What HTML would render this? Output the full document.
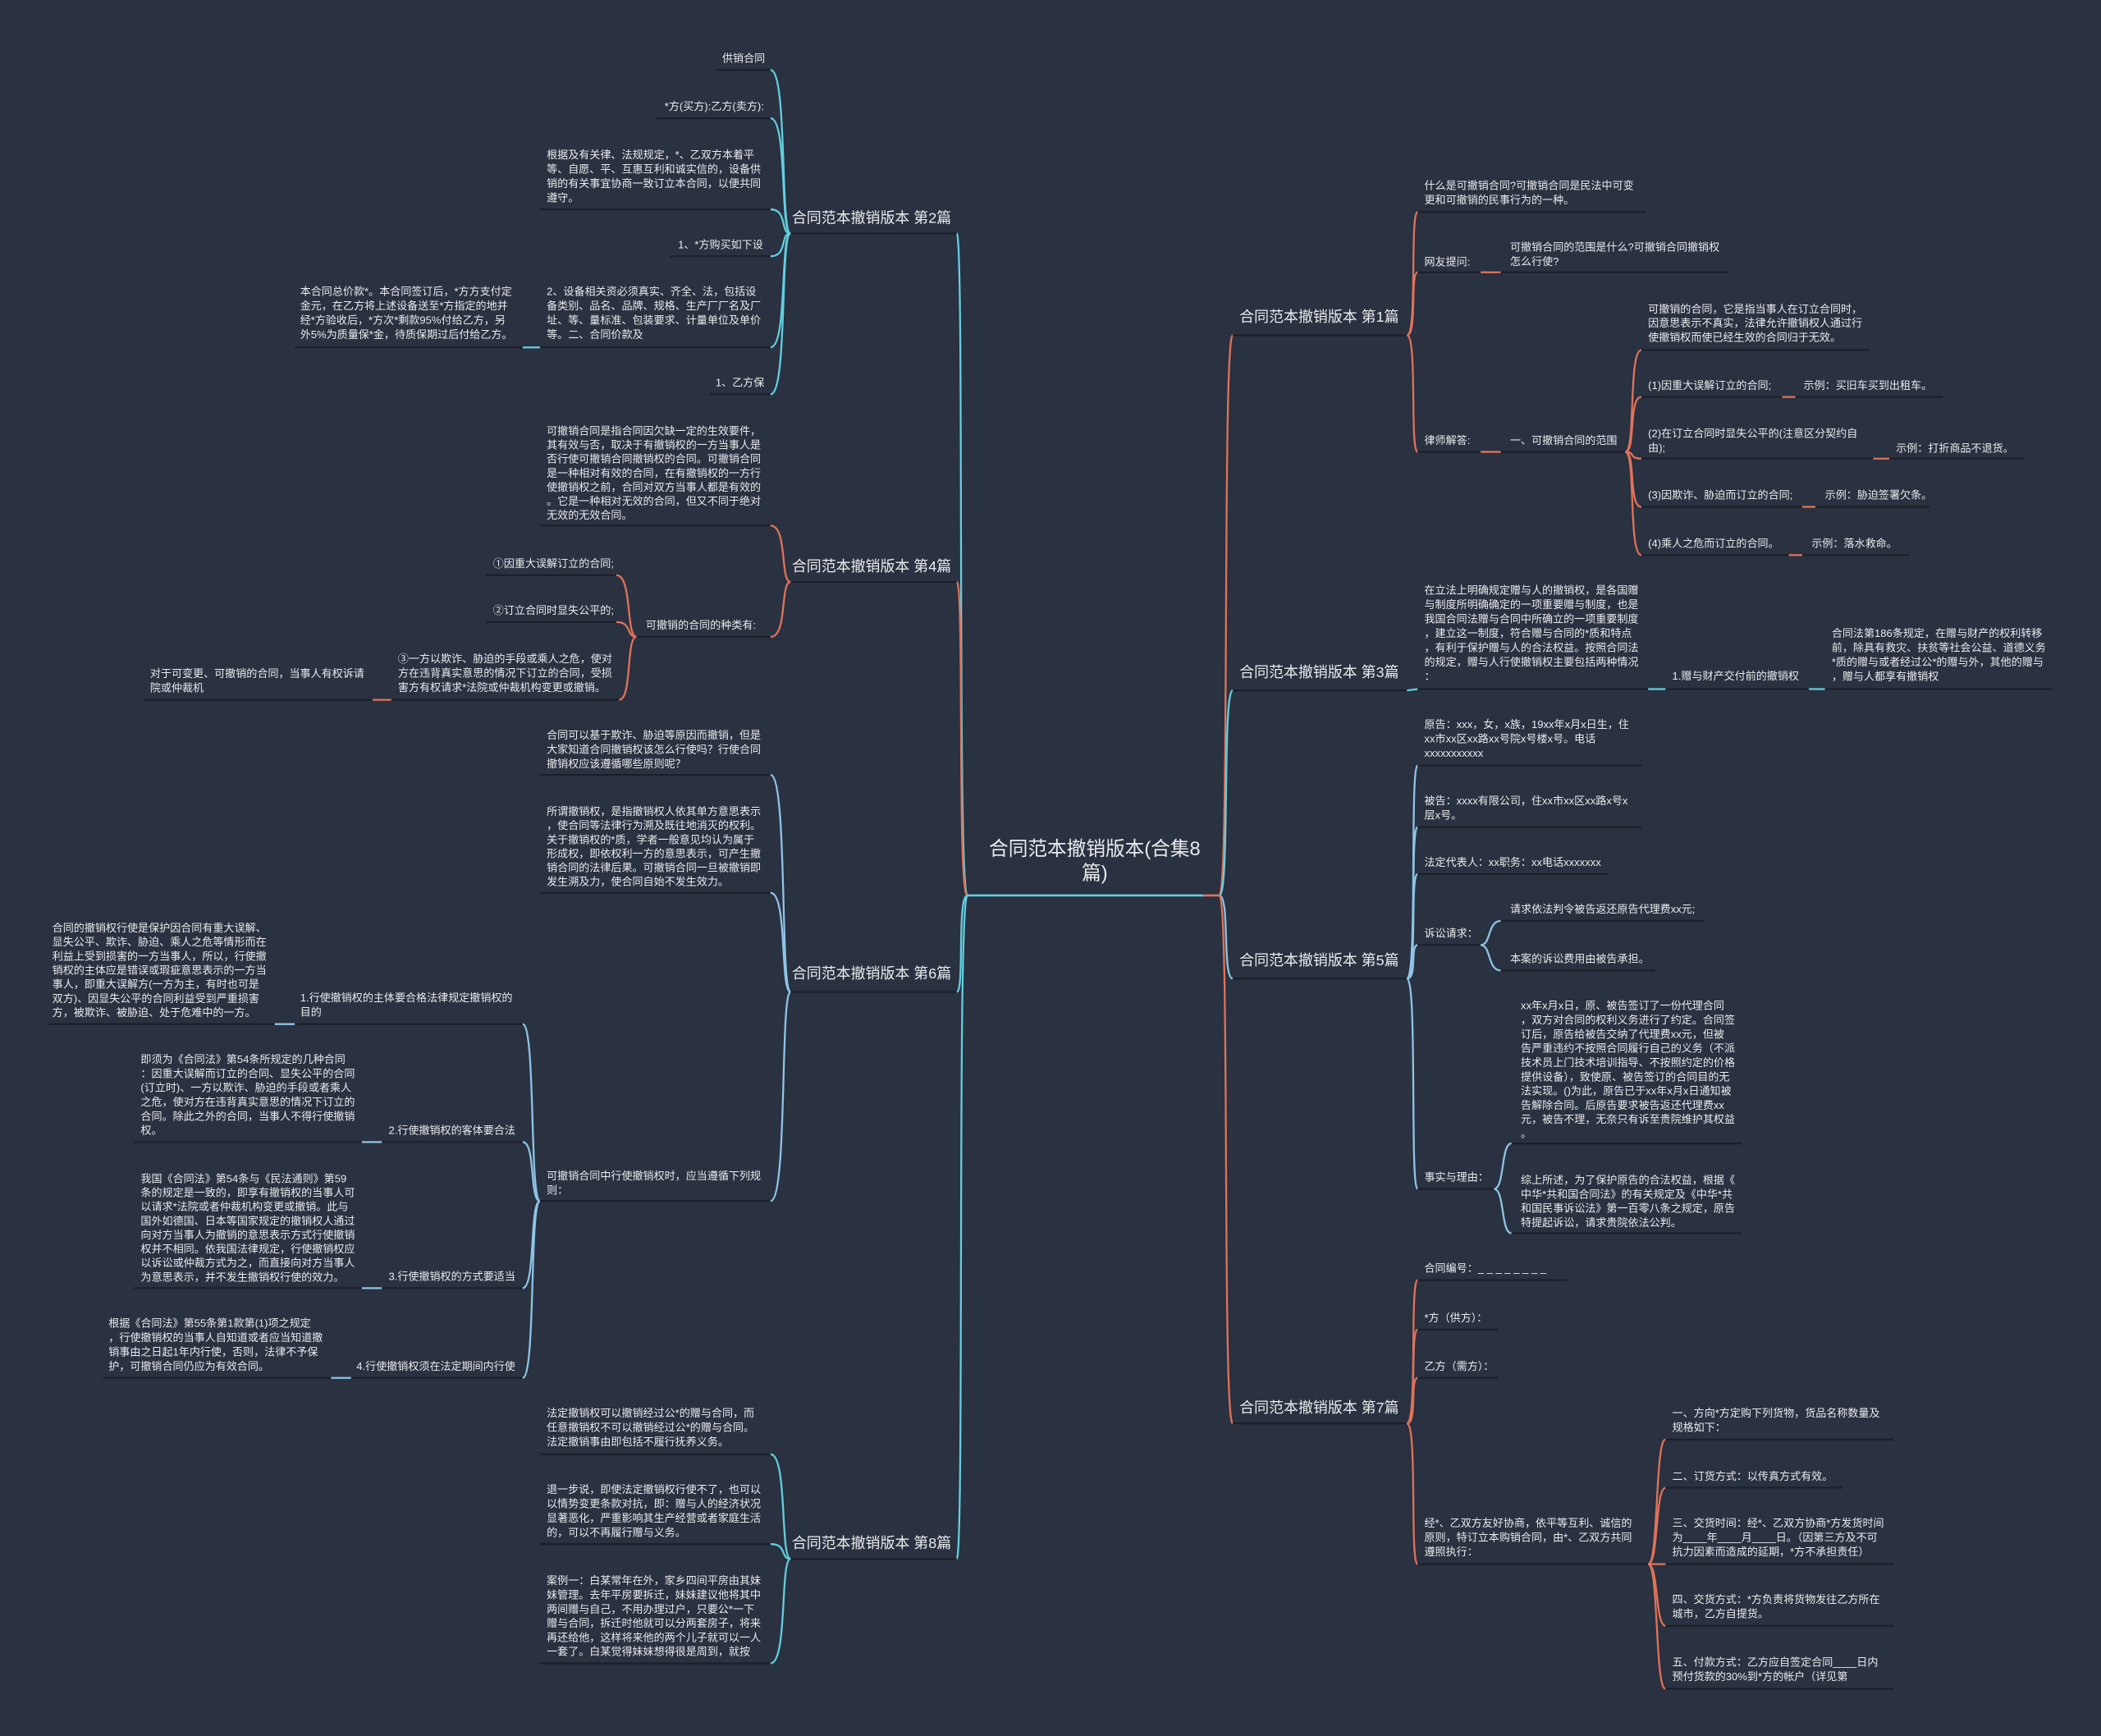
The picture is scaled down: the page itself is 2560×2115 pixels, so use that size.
<!DOCTYPE html>
<html><head><meta charset="utf-8"><style>
html,body{margin:0;padding:0;background:#2a3140;}
svg{display:block}
text{font-family:"Liberation Sans","Noto Sans CJK SC",sans-serif;fill:#e9ecef;}
.s{font-size:8px}
.b{font-size:11px}
.c{font-size:14.5px}
.u{stroke:#1b1f27;stroke-width:1.3}
path{fill:none;stroke-width:1.4}
.r{stroke:#e0735a}.k{stroke:#62cfe0}.l{stroke:#8ec4e6}
</style></head><body>
<svg width="2560" height="2115" viewBox="0 0 1568 1295" xmlns="http://www.w3.org/2000/svg">
<rect width="1568" height="1295" fill="#2a3140"/>
<!-- center -->
<text class="c" x="817" y="638" text-anchor="middle">合同范本撤销版本(合集8</text>
<text class="c" x="817" y="656" text-anchor="middle">篇)</text>
<line x1="722" y1="668" x2="898" y2="668" stroke="#62cfe0" stroke-width="1.6"/>
<line x1="898" y1="668" x2="910" y2="668" stroke="#e0735a" stroke-width="1.6"/>
<!-- center connectors -->
<path class="r" d="M910,668 C918,668 912,250 920,250"/>
<path class="k" d="M910,668 C918,668 912,515 920,515"/>
<path class="l" d="M910,668 C918,668 912,730 920,730"/>
<path class="r" d="M910,668 C918,668 912,1062 920,1062"/>
<path class="k" d="M722,668 C714,668 720,174 714,174"/>
<path class="r" d="M722,668 C714,668 720,434 714,434"/>
<path class="k" d="M722,668 C714,668 720,740 714,740"/>
<path class="k" d="M722,668 C714,668 720,1163 714,1163"/>
<!-- branch titles -->
<text class="b" x="925" y="240">合同范本撤销版本 第1篇</text><line class="u" x1="920" y1="250" x2="1050" y2="250"/>
<text class="b" x="925" y="505">合同范本撤销版本 第3篇</text><line class="u" x1="920" y1="515" x2="1050" y2="515"/>
<text class="b" x="925" y="720">合同范本撤销版本 第5篇</text><line class="u" x1="920" y1="730" x2="1050" y2="730"/>
<text class="b" x="925" y="1054">合同范本撤销版本 第7篇</text><line class="u" x1="920" y1="1062" x2="1050" y2="1062"/>
<text class="b" x="710" y="166" text-anchor="end">合同范本撤销版本 第2篇</text><line class="u" x1="590" y1="174" x2="714" y2="174"/>
<text class="b" x="710" y="426" text-anchor="end">合同范本撤销版本 第4篇</text><line class="u" x1="590" y1="434" x2="714" y2="434"/>
<text class="b" x="710" y="730" text-anchor="end">合同范本撤销版本 第6篇</text><line class="u" x1="590" y1="740" x2="714" y2="740"/>
<text class="b" x="710" y="1155" text-anchor="end">合同范本撤销版本 第8篇</text><line class="u" x1="590" y1="1163" x2="714" y2="1163"/>

<!-- ===== 第1篇 ===== -->
<path class="r" d="M1050,250 C1058,250 1052,158 1058,158"/>
<path class="r" d="M1050,250 C1058,250 1052,203 1058,203"/>
<path class="r" d="M1050,250 C1058,250 1052,337 1058,337"/>
<text class="s" x="1063" y="141"><tspan x="1063">什么是可撤销合同?可撤销合同是民法中可变</tspan><tspan x="1063" dy="10.7">更和可撤销的民事行为的一种。</tspan></text>
<line class="u" x1="1058" y1="158" x2="1228" y2="158"/>
<text class="s" x="1063" y="198">网友提问:</text><line class="u" x1="1058" y1="203" x2="1105" y2="203"/>
<path class="r" d="M1105,203 L1120,203"/>
<text class="s" x="1127" y="187"><tspan x="1127">可撤销合同的范围是什么?可撤销合同撤销权</tspan><tspan x="1127" dy="10.7">怎么行使?</tspan></text>
<line class="u" x1="1120" y1="203" x2="1290" y2="203"/>
<text class="s" x="1063" y="331">律师解答:</text><line class="u" x1="1058" y1="337" x2="1105" y2="337"/>
<path class="r" d="M1105,337 L1120,337"/>
<text class="s" x="1127" y="331">一、可撤销合同的范围</text><line class="u" x1="1120" y1="337" x2="1213" y2="337"/>
<path class="r" d="M1213,337 C1221,337 1215,261 1225,261"/>
<path class="r" d="M1213,337 C1221,337 1215,296 1225,296"/>
<path class="r" d="M1213,337 C1221,337 1215,342 1225,342"/>
<path class="r" d="M1213,337 C1221,337 1215,378 1225,378"/>
<path class="r" d="M1213,337 C1221,337 1215,414 1225,414"/>
<text class="s" x="1230" y="233"><tspan x="1230">可撤销的合同，它是指当事人在订立合同时，</tspan><tspan x="1230" dy="10.7">因意思表示不真实，法律允许撤销权人通过行</tspan><tspan x="1230" dy="10.7">使撤销权而使已经生效的合同归于无效。</tspan></text>
<line class="u" x1="1225" y1="261" x2="1395" y2="261"/>
<text class="s" x="1230" y="290">(1)因重大误解订立的合同;</text><line class="u" x1="1225" y1="296" x2="1330" y2="296"/>
<path class="r" d="M1330,296 L1340,296"/>
<text class="s" x="1346" y="290">示例：买旧车买到出租车。</text><line class="u" x1="1340" y1="296" x2="1450" y2="296"/>
<text class="s" x="1230" y="326"><tspan x="1230">(2)在订立合同时显失公平的(注意区分契约自</tspan><tspan x="1230" dy="10.7">由);</tspan></text><line class="u" x1="1225" y1="342" x2="1398" y2="342"/>
<path class="r" d="M1398,342 L1410,342"/>
<text class="s" x="1415" y="337">示例：打折商品不退货。</text><line class="u" x1="1410" y1="342" x2="1510" y2="342"/>
<text class="s" x="1230" y="372">(3)因欺诈、胁迫而订立的合同;</text><line class="u" x1="1225" y1="378" x2="1345" y2="378"/>
<path class="r" d="M1345,378 L1355,378"/>
<text class="s" x="1362" y="372">示例：胁迫签署欠条。</text><line class="u" x1="1355" y1="378" x2="1440" y2="378"/>
<text class="s" x="1230" y="408">(4)乘人之危而订立的合同。</text><line class="u" x1="1225" y1="414" x2="1335" y2="414"/>
<path class="r" d="M1335,414 L1345,414"/>
<text class="s" x="1352" y="408">示例：落水救命。</text><line class="u" x1="1345" y1="414" x2="1425" y2="414"/>

<!-- ===== 第3篇 ===== -->
<path class="k" d="M1050,515 L1058,514"/>
<text class="s" x="1063" y="443"><tspan x="1063">在立法上明确规定赠与人的撤销权，是各国赠</tspan><tspan x="1063" dy="10.7">与制度所明确确定的一项重要赠与制度，也是</tspan><tspan x="1063" dy="10.7">我国合同法赠与合同中所确立的一项重要制度</tspan><tspan x="1063" dy="10.7">，建立这一制度，符合赠与合同的*质和特点</tspan><tspan x="1063" dy="10.7">，有利于保护赠与人的合法权益。按照合同法</tspan><tspan x="1063" dy="10.7">的规定，赠与人行使撤销权主要包括两种情况</tspan><tspan x="1063" dy="10.7">：</tspan></text>
<line class="u" x1="1058" y1="514" x2="1230" y2="514"/>
<path class="k" d="M1230,514 L1243,514"/>
<text class="s" x="1248" y="507">1.赠与财产交付前的撤销权</text><line class="u" x1="1243" y1="514" x2="1350" y2="514"/>
<path class="k" d="M1350,514 L1362,514"/>
<text class="s" x="1367" y="475"><tspan x="1367">合同法第186条规定，在赠与财产的权利转移</tspan><tspan x="1367" dy="10.7">前，除具有救灾、扶贫等社会公益、道德义务</tspan><tspan x="1367" dy="10.7">*质的赠与或者经过公*的赠与外，其他的赠与</tspan><tspan x="1367" dy="10.7">，赠与人都享有撤销权</tspan></text>
<line class="u" x1="1362" y1="514" x2="1532" y2="514"/>

<!-- ===== 第5篇 ===== -->
<path class="l" d="M1050,730 C1058,730 1052,571 1058,571"/>
<path class="l" d="M1050,730 C1058,730 1052,617 1058,617"/>
<path class="l" d="M1050,730 C1058,730 1052,652 1058,652"/>
<path class="l" d="M1050,730 C1058,730 1052,705 1058,705"/>
<path class="l" d="M1050,730 C1058,730 1052,887 1058,887"/>
<text class="s" x="1063" y="543"><tspan x="1063">原告：xxx，女，x族，19xx年x月x日生，住</tspan><tspan x="1063" dy="10.7">xx市xx区xx路xx号院x号楼x号。电话</tspan><tspan x="1063" dy="10.7">xxxxxxxxxxx</tspan></text>
<line class="u" x1="1058" y1="571" x2="1225" y2="571"/>
<text class="s" x="1063" y="600"><tspan x="1063">被告：xxxx有限公司，住xx市xx区xx路x号x</tspan><tspan x="1063" dy="10.7">层x号。</tspan></text>
<line class="u" x1="1058" y1="617" x2="1225" y2="617"/>
<text class="s" x="1063" y="646">法定代表人：xx职务：xx电话xxxxxxx</text><line class="u" x1="1058" y1="652" x2="1200" y2="652"/>
<text class="s" x="1063" y="699">诉讼请求：</text><line class="u" x1="1058" y1="705" x2="1105" y2="705"/>
<path class="l" d="M1105,705 C1113,705 1110,687 1120,687"/>
<path class="l" d="M1105,705 C1113,705 1110,724 1120,724"/>
<text class="s" x="1127" y="681">请求依法判令被告返还原告代理费xx元;</text><line class="u" x1="1120" y1="687" x2="1272" y2="687"/>
<text class="s" x="1127" y="718">本案的诉讼费用由被告承担。</text><line class="u" x1="1120" y1="724" x2="1235" y2="724"/>
<text class="s" x="1063" y="881">事实与理由：</text><line class="u" x1="1058" y1="887" x2="1115" y2="887"/>
<path class="l" d="M1115,887 C1123,887 1120,853 1128,853"/>
<path class="l" d="M1115,887 C1123,887 1120,920 1128,920"/>
<text class="s" x="1135" y="753"><tspan x="1135">xx年x月x日，原、被告签订了一份代理合同</tspan><tspan x="1135" dy="10.6">，双方对合同的权利义务进行了约定。合同签</tspan><tspan x="1135" dy="10.6">订后，原告给被告交纳了代理费xx元，但被</tspan><tspan x="1135" dy="10.6">告严重违约不按照合同履行自己的义务（不派</tspan><tspan x="1135" dy="10.6">技术员上门技术培训指导、不按照约定的价格</tspan><tspan x="1135" dy="10.6">提供设备），致使原、被告签订的合同目的无</tspan><tspan x="1135" dy="10.6">法实现。()为此，原告已于xx年x月x日通知被</tspan><tspan x="1135" dy="10.6">告解除合同。后原告要求被告返还代理费xx</tspan><tspan x="1135" dy="10.6">元，被告不理，无奈只有诉至贵院维护其权益</tspan><tspan x="1135" dy="10.6">。</tspan></text>
<line class="u" x1="1128" y1="853" x2="1300" y2="853"/>
<text class="s" x="1135" y="883"><tspan x="1135">综上所述，为了保护原告的合法权益，根据《</tspan><tspan x="1135" dy="10.6">中华*共和国合同法》的有关规定及《中华*共</tspan><tspan x="1135" dy="10.6">和国民事诉讼法》第一百零八条之规定，原告</tspan><tspan x="1135" dy="10.6">特提起诉讼，请求贵院依法公判。</tspan></text>
<line class="u" x1="1128" y1="920" x2="1300" y2="920"/>

<!-- ===== 第7篇 ===== -->
<path class="r" d="M1050,1062 C1058,1062 1052,955 1058,955"/>
<path class="r" d="M1050,1062 C1058,1062 1052,992 1058,992"/>
<path class="r" d="M1050,1062 C1058,1062 1052,1028 1058,1028"/>
<path class="r" d="M1050,1062 C1058,1062 1052,1167 1058,1167"/>
<text class="s" x="1063" y="949">合同编号：_ _ _ _ _ _ _ _</text><line class="u" x1="1058" y1="955" x2="1170" y2="955"/>
<text class="s" x="1063" y="986">*方（供方）：</text><line class="u" x1="1058" y1="992" x2="1118" y2="992"/>
<text class="s" x="1063" y="1022">乙方（需方）：</text><line class="u" x1="1058" y1="1028" x2="1118" y2="1028"/>
<text class="s" x="1063" y="1139"><tspan x="1063">经*、乙双方友好协商，依平等互利、诚信的</tspan><tspan x="1063" dy="10.7">原则，特订立本购销合同，由*、乙双方共同</tspan><tspan x="1063" dy="10.7">遵照执行：</tspan></text>
<line class="u" x1="1058" y1="1167" x2="1230" y2="1167"/>
<path class="r" d="M1230,1167 C1238,1167 1235,1074 1243,1074"/>
<path class="r" d="M1230,1167 C1238,1167 1235,1110 1243,1110"/>
<path class="r" d="M1230,1167 L1243,1167"/>
<path class="r" d="M1230,1167 C1238,1167 1235,1213 1243,1213"/>
<path class="r" d="M1230,1167 C1238,1167 1235,1260 1243,1260"/>
<text class="s" x="1248" y="1057"><tspan x="1248">一、方向*方定购下列货物，货品名称数量及</tspan><tspan x="1248" dy="10.7">规格如下：</tspan></text>
<line class="u" x1="1243" y1="1074" x2="1413" y2="1074"/>
<text class="s" x="1248" y="1104">二、订货方式：以传真方式有效。</text><line class="u" x1="1243" y1="1110" x2="1375" y2="1110"/>
<text class="s" x="1248" y="1139"><tspan x="1248">三、交货时间：经*、乙双方协商*方发货时间</tspan><tspan x="1248" dy="10.7">为____年____月____日。（因第三方及不可</tspan><tspan x="1248" dy="10.7">抗力因素而造成的延期，*方不承担责任）</tspan></text>
<line class="u" x1="1243" y1="1167" x2="1413" y2="1167"/>
<text class="s" x="1248" y="1196"><tspan x="1248">四、交货方式：*方负责将货物发往乙方所在</tspan><tspan x="1248" dy="10.7">城市，乙方自提货。</tspan></text>
<line class="u" x1="1243" y1="1213" x2="1413" y2="1213"/>
<text class="s" x="1248" y="1243"><tspan x="1248">五、付款方式：乙方应自签定合同____日内</tspan><tspan x="1248" dy="10.7">预付货款的30%到*方的帐户（详见第</tspan></text>
<line class="u" x1="1243" y1="1260" x2="1413" y2="1260"/>

<!-- ===== 第2篇 ===== -->
<path class="k" d="M590,174 C582,174 588,52 575,52"/>
<path class="k" d="M590,174 C582,174 588,88 575,88"/>
<path class="k" d="M590,174 C582,174 588,156 575,156"/>
<path class="k" d="M590,174 C582,174 588,191 575,191"/>
<path class="k" d="M590,174 C582,174 588,259 575,259"/>
<path class="k" d="M590,174 C582,174 588,294 575,294"/>
<text class="s" x="539" y="46">供销合同</text><line class="u" x1="535" y1="52" x2="575" y2="52"/>
<text class="s" x="496" y="82">*方(买方):乙方(卖方):</text><line class="u" x1="490" y1="88" x2="575" y2="88"/>
<text class="s" x="408" y="118"><tspan x="408">根据及有关律、法规规定，*、乙双方本着平</tspan><tspan x="408" dy="10.7">等、自愿、平、互惠互利和诚实信的，设备供</tspan><tspan x="408" dy="10.7">销的有关事宜协商一致订立本合同，以便共同</tspan><tspan x="408" dy="10.7">遵守。</tspan></text>
<line class="u" x1="403" y1="156" x2="575" y2="156"/>
<text class="s" x="506" y="185">1、*方购买如下设</text><line class="u" x1="500" y1="191" x2="575" y2="191"/>
<text class="s" x="408" y="220"><tspan x="408">2、设备相关资必须真实、齐全、法，包括设</tspan><tspan x="408" dy="10.7">备类别、品名、品牌、规格、生产厂厂名及厂</tspan><tspan x="408" dy="10.7">址、等、量标准、包装要求、计量单位及单价</tspan><tspan x="408" dy="10.7">等。二、合同价款及</tspan></text>
<line class="u" x1="403" y1="259" x2="575" y2="259"/>
<path class="k" d="M403,259 L390,259"/>
<text class="s" x="224" y="220"><tspan x="224">本合同总价款*。本合同签订后，*方方支付定</tspan><tspan x="224" dy="10.7">金元，在乙方将上述设备送至*方指定的地并</tspan><tspan x="224" dy="10.7">经*方验收后，*方次*剩款95%付给乙方，另</tspan><tspan x="224" dy="10.7">外5%为质量保*金，待质保期过后付给乙方。</tspan></text>
<line class="u" x1="220" y1="259" x2="390" y2="259"/>
<text class="s" x="534" y="288">1、乙方保</text><line class="u" x1="530" y1="294" x2="575" y2="294"/>

<!-- ===== 第4篇 ===== -->
<path class="r" d="M590,434 C582,434 588,392 575,392"/>
<path class="r" d="M590,434 C582,434 588,475 575,475"/>
<text class="s" x="408" y="324"><tspan x="408">可撤销合同是指合同因欠缺一定的生效要件，</tspan><tspan x="408" dy="10.5">其有效与否，取决于有撤销权的一方当事人是</tspan><tspan x="408" dy="10.5">否行使可撤销合同撤销权的合同。可撤销合同</tspan><tspan x="408" dy="10.5">是一种相对有效的合同，在有撤销权的一方行</tspan><tspan x="408" dy="10.5">使撤销权之前，合同对双方当事人都是有效的</tspan><tspan x="408" dy="10.5">。它是一种相对无效的合同，但又不同于绝对</tspan><tspan x="408" dy="10.5">无效的无效合同。</tspan></text>
<line class="u" x1="403" y1="392" x2="575" y2="392"/>
<text class="s" x="482" y="469">可撤销的合同的种类有:</text><line class="u" x1="475" y1="475" x2="575" y2="475"/>
<path class="r" d="M475,475 C467,475 472,429 460,429"/>
<path class="r" d="M475,475 C467,475 472,464 460,464"/>
<path class="r" d="M475,475 C467,475 472,522 462,522"/>
<text class="s" x="368" y="423">①因重大误解订立的合同;</text><line class="u" x1="363" y1="429" x2="460" y2="429"/>
<text class="s" x="368" y="458">②订立合同时显失公平的;</text><line class="u" x1="363" y1="464" x2="460" y2="464"/>
<text class="s" x="297" y="494"><tspan x="297">③一方以欺诈、胁迫的手段或乘人之危，使对</tspan><tspan x="297" dy="10.7">方在违背真实意思的情况下订立的合同，受损</tspan><tspan x="297" dy="10.7">害方有权请求*法院或仲裁机构变更或撤销。</tspan></text>
<line class="u" x1="292" y1="522" x2="462" y2="522"/>
<path class="r" d="M292,522 L278,522"/>
<text class="s" x="112" y="505"><tspan x="112">对于可变更、可撤销的合同，当事人有权诉请</tspan><tspan x="112" dy="10.7">院或仲裁机</tspan></text>
<line class="u" x1="107" y1="522" x2="278" y2="522"/>

<!-- ===== 第6篇 ===== -->
<path class="l" d="M590,740 C582,740 588,578 575,578"/>
<path class="l" d="M590,740 C582,740 588,666 575,666"/>
<path class="l" d="M590,740 C582,740 588,896 575,896"/>
<text class="s" x="408" y="551"><tspan x="408">合同可以基于欺诈、胁迫等原因而撤销，但是</tspan><tspan x="408" dy="10.7">大家知道合同撤销权该怎么行使吗？行使合同</tspan><tspan x="408" dy="10.7">撤销权应该遵循哪些原则呢？</tspan></text>
<line class="u" x1="403" y1="578" x2="575" y2="578"/>
<text class="s" x="408" y="608"><tspan x="408">所谓撤销权，是指撤销权人依其单方意思表示</tspan><tspan x="408" dy="10.5">，使合同等法律行为溯及既往地消灭的权利。</tspan><tspan x="408" dy="10.5">关于撤销权的*质，学者一般意见均认为属于</tspan><tspan x="408" dy="10.5">形成权，即依权利一方的意思表示，可产生撤</tspan><tspan x="408" dy="10.5">销合同的法律后果。可撤销合同一旦被撤销即</tspan><tspan x="408" dy="10.5">发生溯及力，使合同自始不发生效力。</tspan></text>
<line class="u" x1="403" y1="666" x2="575" y2="666"/>
<text class="s" x="408" y="880"><tspan x="408">可撤销合同中行使撤销权时，应当遵循下列规</tspan><tspan x="408" dy="10.7">则：</tspan></text>
<line class="u" x1="403" y1="896" x2="575" y2="896"/>
<path class="l" d="M403,896 C395,896 400,764 390,764"/>
<path class="l" d="M403,896 C395,896 400,852 390,852"/>
<path class="l" d="M403,896 C395,896 400,961 390,961"/>
<path class="l" d="M403,896 C395,896 400,1028 390,1028"/>
<text class="s" x="224" y="747"><tspan x="224">1.行使撤销权的主体要合格法律规定撤销权的</tspan><tspan x="224" dy="10.7">目的</tspan></text>
<line class="u" x1="220" y1="764" x2="390" y2="764"/>
<path class="l" d="M220,764 L205,764"/>
<text class="s" x="39" y="695"><tspan x="39">合同的撤销权行使是保护因合同有重大误解、</tspan><tspan x="39" dy="10.5">显失公平、欺诈、胁迫、乘人之危等情形而在</tspan><tspan x="39" dy="10.5">利益上受到损害的一方当事人，所以，行使撤</tspan><tspan x="39" dy="10.5">销权的主体应是错误或瑕疵意思表示的一方当</tspan><tspan x="39" dy="10.5">事人，即重大误解方(一方为主，有时也可是</tspan><tspan x="39" dy="10.5">双方)、因显失公平的合同利益受到严重损害</tspan><tspan x="39" dy="10.5">方，被欺诈、被胁迫、处于危难中的一方。</tspan></text>
<line class="u" x1="35" y1="764" x2="205" y2="764"/>
<text class="s" x="290" y="846">2.行使撤销权的客体要合法</text><line class="u" x1="285" y1="852" x2="390" y2="852"/>
<path class="l" d="M285,852 L270,852"/>
<text class="s" x="105" y="793"><tspan x="105">即须为《合同法》第54条所规定的几种合同</tspan><tspan x="105" dy="10.6">：因重大误解而订立的合同、显失公平的合同</tspan><tspan x="105" dy="10.6">(订立时)、一方以欺诈、胁迫的手段或者乘人</tspan><tspan x="105" dy="10.6">之危，使对方在违背真实意思的情况下订立的</tspan><tspan x="105" dy="10.6">合同。除此之外的合同，当事人不得行使撤销</tspan><tspan x="105" dy="10.6">权。</tspan></text>
<line class="u" x1="100" y1="852" x2="270" y2="852"/>
<text class="s" x="290" y="955">3.行使撤销权的方式要适当</text><line class="u" x1="285" y1="961" x2="390" y2="961"/>
<path class="l" d="M285,961 L270,961"/>
<text class="s" x="105" y="882"><tspan x="105">我国《合同法》第54条与《民法通则》第59</tspan><tspan x="105" dy="10.5">条的规定是一致的，即享有撤销权的当事人可</tspan><tspan x="105" dy="10.5">以请求*法院或者仲裁机构变更或撤销。此与</tspan><tspan x="105" dy="10.5">国外如德国、日本等国家规定的撤销权人通过</tspan><tspan x="105" dy="10.5">向对方当事人为撤销的意思表示方式行使撤销</tspan><tspan x="105" dy="10.5">权并不相同。依我国法律规定，行使撤销权应</tspan><tspan x="105" dy="10.5">以诉讼或仲裁方式为之，而直接向对方当事人</tspan><tspan x="105" dy="10.5">为意思表示，并不发生撤销权行使的效力。</tspan></text>
<line class="u" x1="100" y1="961" x2="270" y2="961"/>
<text class="s" x="266" y="1022">4.行使撤销权须在法定期间内行使</text><line class="u" x1="262" y1="1028" x2="390" y2="1028"/>
<path class="l" d="M262,1028 L247,1028"/>
<text class="s" x="81" y="990"><tspan x="81">根据《合同法》第55条第1款第(1)项之规定</tspan><tspan x="81" dy="10.7">，行使撤销权的当事人自知道或者应当知道撤</tspan><tspan x="81" dy="10.7">销事由之日起1年内行使，否则，法律不予保</tspan><tspan x="81" dy="10.7">护，可撤销合同仍应为有效合同。</tspan></text>
<line class="u" x1="77" y1="1028" x2="247" y2="1028"/>

<!-- ===== 第8篇 ===== -->
<path class="k" d="M590,1163 C582,1163 588,1085 575,1085"/>
<path class="k" d="M590,1163 C582,1163 588,1152 575,1152"/>
<path class="k" d="M590,1163 C582,1163 588,1241 575,1241"/>
<text class="s" x="408" y="1057"><tspan x="408">法定撤销权可以撤销经过公*的赠与合同，而</tspan><tspan x="408" dy="10.7">任意撤销权不可以撤销经过公*的赠与合同。</tspan><tspan x="408" dy="10.7">法定撤销事由即包括不履行抚养义务。</tspan></text>
<line class="u" x1="403" y1="1085" x2="575" y2="1085"/>
<text class="s" x="408" y="1114"><tspan x="408">退一步说，即使法定撤销权行使不了，也可以</tspan><tspan x="408" dy="10.7">以情势变更条款对抗，即：赠与人的经济状况</tspan><tspan x="408" dy="10.7">显著恶化，严重影响其生产经营或者家庭生活</tspan><tspan x="408" dy="10.7">的，可以不再履行赠与义务。</tspan></text>
<line class="u" x1="403" y1="1152" x2="575" y2="1152"/>
<text class="s" x="408" y="1182"><tspan x="408">案例一：白某常年在外，家乡四间平房由其妹</tspan><tspan x="408" dy="10.6">妹管理。去年平房要拆迁，妹妹建议他将其中</tspan><tspan x="408" dy="10.6">两间赠与自己，不用办理过户，只要公*一下</tspan><tspan x="408" dy="10.6">赠与合同，拆迁时他就可以分两套房子，将来</tspan><tspan x="408" dy="10.6">再还给他，这样将来他的两个儿子就可以一人</tspan><tspan x="408" dy="10.6">一套了。白某觉得妹妹想得很是周到，就按</tspan></text>
<line class="u" x1="403" y1="1241" x2="575" y2="1241"/>
</svg>
</body></html>
